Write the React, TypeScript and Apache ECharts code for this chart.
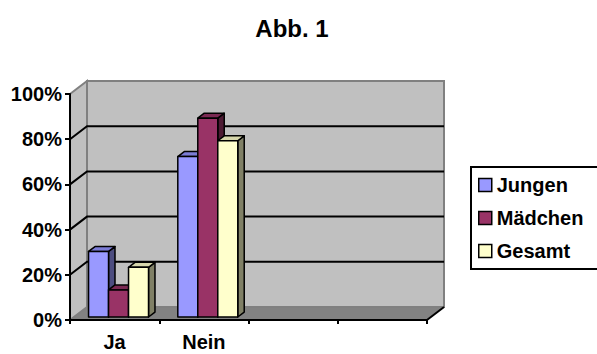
import React, { useEffect, useRef } from "react";
import * as echarts from "echarts";

// Survey answers in percent, per group
const categories = ["Ja", "Nein", "", ""];
const seriesNames = ["Jungen", "Mädchen", "Gesamt"];
const jungen = [29, 71];
const maedchen = [12, 88];
const gesamt = [22, 78];
const gridValues = [20, 40, 60, 80];

const FONT = "'Liberation Sans', Arial, Helvetica, sans-serif";

// Face shading for the pseudo-3D columns: front, top, right side
const faceColors = [
  { front: "#9999FF", top: "#7C7CD6", side: "#4D4D80" },
  { front: "#993366", top: "#7A2952", side: "#4D1A33" },
  { front: "#FFFFCC", top: "#D6D6AB", side: "#808066" },
];

// Oblique depth vector of the plot box (back wall relative to front plane)
const DEPTH_X = 17;
const DEPTH_Y = -13;

function barRenderer(idx: number) {
  return (params: any, api: any) => {
    const cat = api.value(0);
    const val = api.value(1);
    const base = api.coord([cat, 0]);
    const top = api.coord([cat, val]);
    const band = api.size([1, 0])[0];
    const w = band * 0.224;
    const fx = DEPTH_X * 0.23;
    const fy = DEPTH_Y * 0.23;
    const bx = DEPTH_X * 0.38;
    const by = DEPTH_Y * 0.38;
    const x0 = base[0] - 1.5 * w + idx * w + fx;
    const x1 = x0 + w;
    const yb = base[1] + fy;
    const yt = top[1] + fy;
    const c = faceColors[idx];
    const stroke = { stroke: "#000", lineWidth: 1.5, lineJoin: "round" };
    return {
      type: "group",
      children: [
        {
          type: "polygon",
          shape: { points: [[x1, yt], [x1 + bx, yt + by], [x1 + bx, yb + by], [x1, yb]] },
          style: { fill: c.side, ...stroke },
        },
        {
          type: "polygon",
          shape: { points: [[x0, yt], [x1, yt], [x1 + bx, yt + by], [x0 + bx, yt + by]] },
          style: { fill: c.top, ...stroke },
        },
        {
          type: "rect",
          shape: { x: x0, y: yt, width: w, height: yb - yt },
          style: { fill: c.front, ...stroke },
        },
      ],
    };
  };
}

function wallRenderer(params: any, api: any) {
  const cs = params.coordSys;
  const left = cs.x;
  const right = cs.x + cs.width;
  const topY = cs.y;
  const bottom = cs.y + cs.height;
  const wallFill = "#C0C0C0";
  const edge = { stroke: "#808080", lineWidth: 2 };
  const children: any[] = [
    // floor
    {
      type: "polygon",
      shape: {
        points: [
          [left, bottom],
          [right, bottom],
          [right + DEPTH_X, bottom + DEPTH_Y],
          [left + DEPTH_X, bottom + DEPTH_Y],
        ],
      },
      style: { fill: "#828282", stroke: "#A0A0A0", lineWidth: 1 },
    },
    // left side wall
    {
      type: "polygon",
      shape: {
        points: [
          [left, topY],
          [left + DEPTH_X, topY + DEPTH_Y],
          [left + DEPTH_X, bottom + DEPTH_Y],
          [left, bottom],
        ],
      },
      style: { fill: wallFill, ...edge },
    },
    // back wall
    {
      type: "rect",
      shape: {
        x: left + DEPTH_X,
        y: topY + DEPTH_Y,
        width: cs.width,
        height: cs.height,
      },
      style: { fill: wallFill, ...edge },
    },
  ];
  gridValues.forEach((v) => {
    const y = api.coord([0, v])[1];
    children.push({
      type: "polyline",
      shape: {
        points: [
          [left, y],
          [left + DEPTH_X, y + DEPTH_Y],
          [right + DEPTH_X, y + DEPTH_Y],
        ],
      },
      style: { stroke: "#000", lineWidth: 2, fill: null },
    });
  });
  // right end of the category axis receding into depth
  children.push({
    type: "line",
    shape: { x1: right, y1: bottom, x2: right + DEPTH_X, y2: bottom + DEPTH_Y },
    style: { stroke: "#000", lineWidth: 2 },
  });
  return { type: "group", children };
}

export default function App() {
  const ref = useRef<HTMLDivElement>(null);

  useEffect(() => {
    document.body.style.margin = "0";
    const chart = echarts.init(ref.current!, null, { renderer: "svg" });
    const values = [jungen, maedchen, gesamt];
    chart.setOption({
      animation: false,
      backgroundColor: "#FFFFFF",
      textStyle: { fontFamily: FONT },
      graphic: [
        {
          type: "text",
          x: 292,
          y: 28,
          style: {
            text: "Abb. 1",
            fontFamily: FONT,
            fontWeight: "bold",
            fontSize: 24,
            fill: "#000",
            textAlign: "center",
            textVerticalAlign: "middle",
          },
        },
      ],
      legend: {
        data: seriesNames,
        orient: "vertical",
        left: 471,
        top: 167,
        padding: [8, 15, 8, 7],
        itemGap: 13,
        itemWidth: 13,
        itemHeight: 13,
        icon: "rect",
        borderColor: "#000",
        borderWidth: 2,
        backgroundColor: "#FFFFFF",
        itemStyle: { borderColor: "#000", borderWidth: 1.5 },
        textStyle: { fontFamily: FONT, fontWeight: "bold", fontSize: 20, color: "#000" },
      },
      grid: { left: 70, top: 94, width: 357, height: 226, containLabel: false },
      xAxis: {
        type: "category",
        data: categories,
        z: 10,
        axisLine: { lineStyle: { color: "#000", width: 2 } },
        axisTick: { show: true, length: 4, lineStyle: { color: "#000", width: 2 } },
        axisLabel: {
          fontFamily: FONT,
          fontWeight: "bold",
          fontSize: 20,
          color: "#000",
          margin: 12,
        },
        splitLine: { show: false },
      },
      yAxis: {
        type: "value",
        min: 0,
        max: 100,
        interval: 20,
        z: 10,
        axisLine: { show: true, lineStyle: { color: "#000", width: 2 } },
        axisTick: { show: true, length: 5, lineStyle: { color: "#000", width: 2 } },
        axisLabel: {
          formatter: "{value}%",
          fontFamily: FONT,
          fontWeight: "bold",
          fontSize: 20,
          color: "#000",
          margin: 8,
        },
        splitLine: { show: false },
      },
      series: [
        {
          type: "custom",
          name: "walls",
          z: 1,
          silent: true,
          renderItem: wallRenderer,
          data: [[0, 0]],
          encode: { x: 0, y: 1 },
        },
        ...seriesNames.map((name, i) => ({
          type: "custom",
          name,
          z: 2 + i,
          itemStyle: { color: faceColors[i].front },
          renderItem: barRenderer(i),
          encode: { x: 0, y: 1 },
          data: values[i].map((v, k) => [k, v]),
        })),
      ],
    });
    return () => chart.dispose();
  }, []);

  return <div ref={ref} style={{ width: 597, height: 354 }} />;
}
